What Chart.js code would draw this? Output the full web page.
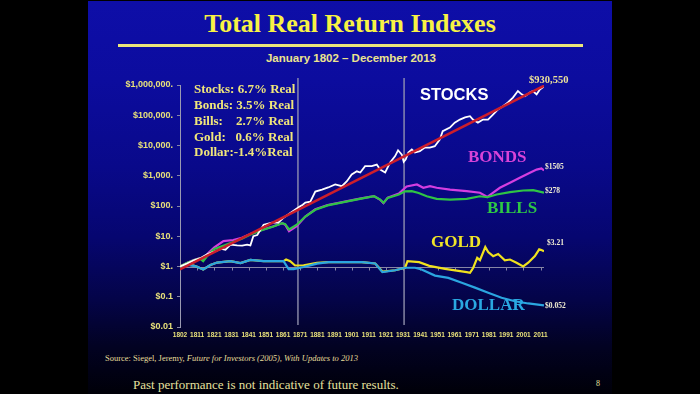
<!DOCTYPE html>
<html>
<head>
<meta charset="utf-8">
<title>Total Real Return Indexes</title>
<script src="https://cdn.jsdelivr.net/npm/chart.js@4.4.1/dist/chart.umd.min.js"></script>
<style>
  html, body { margin: 0; padding: 0; background: #000; width: 700px; height: 394px; overflow: hidden; }
  #slide {
    position: absolute; left: 88px; top: 1px; width: 524px; height: 393px;
    background: linear-gradient(to bottom, #0e0ea8 0%, #0c0c9e 20%, #09098a 42%, #060670 60%, #040448 76%, #020222 88%, #000008 100%);
  }
  .txt { position: absolute; white-space: pre; }
  #title { left: 88px; width: 524px; top: 9px; line-height: 32px; text-align: center;
    font: bold 26px "Liberation Serif", "Times New Roman", serif; color: #f8f244; }
  #rule { position: absolute; left: 118px; width: 465px; top: 44px; height: 3px; background: #ece67a; }
  #subtitle { left: 88px; width: 526px; top: 52px; line-height: 14px; text-align: center;
    font: bold 11.5px "Liberation Sans", Arial, sans-serif; color: #ece48e; }
  #source { left: 105px; top: 353px; line-height: 12px; font: 8.5px "Liberation Serif", serif; color: #e6de9a; }
  #footer { left: 133px; top: 377px; line-height: 16px; font: 13px "Liberation Serif", serif; color: #e6e09e; }
  #page { left: 596px; top: 379px; line-height: 12px; font: 8px "Liberation Serif", serif; color: #e6e09e; }
  #chart { position: absolute; left: 0; top: 0; }
</style>
</head>
<body>
<div id="slide"></div>
<div class="txt" id="title">Total Real Return Indexes</div>
<div id="rule"></div>
<div class="txt" id="subtitle">January 1802 – December 2013</div>
<div class="txt" id="source">Source: Siegel, Jeremy, <i>Future for Investors (2005), With Updates to 2013</i></div>
<div class="txt" id="footer">Past performance is not indicative of future results.</div>
<div class="txt" id="page">8</div>
<canvas id="chart" width="700" height="394"></canvas>

<script>
// values (real total return of $1 invested in 1802)
const stockYears = [1802, 1806, 1810, 1814, 1818, 1822, 1826, 1828.5, 1831.4, 1835.3, 1838.2, 1841.1, 1843, 1844.7, 1847, 1850.7,
  1855.6, 1859.3, 1862.3, 1865, 1869.2, 1871.5, 1873.5, 1875, 1877.9, 1880.8, 1884.7, 1888.3, 1892.4, 1896.3, 1899.2, 1902,
  1905, 1907, 1909.8, 1913.7, 1916.6, 1918.6, 1921.5, 1924.4, 1927.3, 1929, 1931.2, 1932.3, 1933.5, 1935, 1937, 1938.8,
  1941.7, 1944.6, 1947.5, 1950.4, 1953.3, 1955, 1959.2, 1962, 1965, 1968, 1970.9, 1972.6, 1975.5, 1978.5, 1981.4, 1984.3,
  1987.2, 1990.1, 1993, 1995.9, 1998.8, 2001, 2002.9, 2005.8, 2007.5, 2009.7, 2011.6, 2013.3, 2014];
const stockValues = [1, 1.25, 1.6, 1.9, 2.6, 3.1, 3.8, 3.6, 5.3, 5.0, 4.9, 5.3, 5.0, 10, 11, 24,
  28, 28, 41, 52, 77, 95, 110, 130, 140, 300, 350, 410, 515, 450, 660, 1100,
  1400, 1280, 2080, 2080, 2350, 1600, 1280, 2750, 4450, 6950, 5000, 2900, 3500, 5900, 7400, 5900,
  6500, 8500, 8500, 9500, 15800, 29700, 39000, 57000, 72000, 85000, 93000, 72000, 57000, 72000, 72000, 105000,
  155000, 200000, 265000, 385000, 630000, 490000, 425000, 565000, 630000, 490000, 710000, 830000, 930550];

const bondYears = [1802, 1806, 1810, 1813.5, 1815.5, 1818.5, 1822, 1827.3, 1833, 1838, 1844, 1850, 1856, 1861.5, 1863.3,
  1865.5, 1870, 1875, 1880.8, 1888, 1898, 1907.5, 1915, 1918.6, 1920.5, 1923, 1929.5, 1932, 1934, 1940, 1943.7, 1947.6,
  1951.5, 1959.3, 1969, 1976.7, 1981, 1984.4, 1988.3, 1994.2, 1999.9, 2005.8, 2009.7, 2012.5, 2014];
const bondValues = [1, 1.3, 1.65, 1.9, 1.7, 2.8, 4.3, 6.9, 7.5, 8.9, 12.5, 16.5, 21, 27, 24,
  14.7, 21.5, 45, 78, 108, 140, 178, 212, 160, 125, 190, 260, 350, 440, 515, 400, 450,
  400, 350, 310, 275, 200, 275, 400, 585, 855, 1250, 1600, 1750, 1505];

const billYears = [1802, 1806, 1810, 1813.5, 1815.5, 1818.5, 1822, 1828, 1833, 1838, 1844, 1850, 1856, 1861.5, 1863.3,
  1865.5, 1870, 1875, 1880.8, 1888, 1898, 1907.5, 1915, 1918.6, 1920.5, 1923, 1929.5, 1933, 1937, 1941, 1945.7,
  1951.5, 1959.3, 1969, 1976.7, 1981, 1986.4, 1994.2, 2001.9, 2007.7, 2014];
const billValues = [1, 1.3, 1.6, 1.85, 1.5, 2.5, 3.8, 5, 6.5, 8.3, 12, 16, 20.5, 27, 25,
  16.7, 24, 45, 75, 105, 137, 175, 210, 163, 128, 186, 240, 305, 310, 270, 210,
  173, 163, 173, 210, 195, 240, 288, 325, 333, 278];

const goldYears = [1802, 1806, 1810, 1812, 1815.5, 1819.7, 1823.6, 1831.4, 1837.2, 1843, 1850.7, 1856, 1862.3, 1863.8,
  1866.2, 1869, 1874, 1881.8, 1888.5, 1907.9, 1915.7, 1919.9, 1927.3, 1933.1, 1934.5, 1941.3, 1947.2, 1956.4, 1969,
  1970.9, 1972.8, 1975.1, 1976.7, 1979.8, 1981.5, 1984.4, 1987.3, 1991.2, 1994.2, 1998, 2001.9, 2004.8, 2008.7,
  2011.2, 2012.5, 2014];
const goldValues = [1, 1.15, 1.08, 0.98, 0.8, 1.12, 1.35, 1.5, 1.3, 1.65, 1.5, 1.5, 1.5, 1.7,
  1.5, 1.08, 1.1, 1.33, 1.39, 1.39, 1.26, 0.68, 0.75, 0.91, 1.5, 1.39, 1.05, 0.84, 0.65,
  0.62, 0.91, 1.94, 1.62, 4.4, 3.0, 2.2, 2.6, 1.6, 1.7, 1.33, 1.0, 1.33, 2.2,
  3.7, 3.5, 3.21];

const dollarYears = [1802, 1806, 1810, 1812, 1815.5, 1819.7, 1823.6, 1831.4, 1837.2, 1843, 1850.7, 1856, 1862.3, 1865.3,
  1868.2, 1874, 1881.8, 1888.5, 1907.9, 1915.7, 1919.9, 1927.3, 1933.1, 1938.9, 1942.7, 1950.5, 1958.3, 1966.1,
  1973.8, 1981.5, 1989.3, 1997.1, 2004.8, 2014];
const dollarValues = [1, 1.15, 1.05, 0.98, 0.8, 1.12, 1.35, 1.5, 1.3, 1.65, 1.5, 1.5, 1.5, 0.82,
  0.82, 0.96, 1.25, 1.39, 1.39, 1.26, 0.65, 0.75, 0.91, 0.91, 0.8, 0.5, 0.42, 0.29,
  0.2, 0.135, 0.093, 0.071, 0.06, 0.052];

const trendYears = [1802, 2014];
const trendValues = [0.8, 940000];

const xTickLabels = ['1802', '1811', '1821', '1831', '1841', '1851', '1861', '1871', '1881', '1891', '1901',
  '1911', '1921', '1931', '1941', '1951', '1961', '1971', '1981', '1991', '2001', '2011'];
const yTickValues = [0.01, 0.1, 1, 10, 100, 1000, 10000, 100000, 1000000];
const yTickLabels = ['$0.01', '$0.1', '$1.', '$10.', '$100.', '$1,000.', '$10,000.', '$100,000.', '$1,000,000.'];
const markerYears = [1870.7, 1932.5];

const summaryLines = ['Stocks: 6.7% Real', 'Bonds: 3.5% Real', 'Bills:    2.7% Real', 'Gold:   0.6% Real', 'Dollar:-1.4%Real'];

function points(xs, ys) {
    return xs.map((x, i) => ({ x: x, y: ys[i] }));
}

// dataset 0 is painted last, so the trend line sits on top
const series = [
    { name: 'Trend', data: points(trendYears, trendValues), color: '#cc1e2b', width: 2.6 },
    { name: 'Stocks', data: points(stockYears, stockValues), color: '#ffffff', width: 1.8, end: '$930,550' },
    { name: 'Bills', data: points(billYears, billValues), color: '#2fc445', width: 2.2, end: '$278' },
    { name: 'Bonds', data: points(bondYears, bondValues), color: '#d43ee0', width: 2.2, end: '$1505' },
    { name: 'Dollar', data: points(dollarYears, dollarValues), color: '#2ba6e0', width: 2.2, end: '$0.052' },
    { name: 'Gold', data: points(goldYears, goldValues), color: '#f0e21e', width: 2.2, end: '$3.21' }
];

const endOffsets = {
    Stocks: [-15, -6], Bonds: [1, -3], Bills: [1, -2], Gold: [3, -8], Dollar: [1, 1]
};

const guides = {
    id: 'guides',
    beforeDatasetsDraw(chart) {
        const { ctx, chartArea: a, scales: { x, y } } = chart;
        ctx.save();
        // $1 baseline with its small tick marks
        const y1 = Math.round(y.getPixelForValue(1)) + 0.5;
        ctx.strokeStyle = '#8686a6';
        ctx.lineWidth = 1;
        ctx.beginPath();
        ctx.moveTo(a.left, y1);
        ctx.lineTo(a.right, y1);
        x.ticks.forEach(t => {
            const px = Math.round(x.getPixelForValue(t.value)) + 0.5;
            ctx.moveTo(px, y1);
            ctx.lineTo(px, y1 + 3);
        });
        ctx.stroke();
        // 1871 / 1932 separators
        ctx.strokeStyle = '#9a9ab4';
        ctx.lineWidth = 1.3;
        markerYears.forEach(yr => {
            const px = x.getPixelForValue(yr);
            ctx.beginPath();
            ctx.moveTo(px, a.top - 7);
            ctx.lineTo(px, a.bottom - 2);
            ctx.stroke();
        });
        ctx.restore();
    }
};

const labels = {
    id: 'labels',
    afterDraw(chart) {
        const ctx = chart.ctx;
        ctx.save();
        ctx.textBaseline = 'middle';
        ctx.textAlign = 'left';

        ctx.font = 'bold 13px "Liberation Serif", "Times New Roman", serif';
        ctx.fillStyle = '#f0e67a';
        [90, 106, 122, 137.5, 153].forEach((ty, i) => ctx.fillText(summaryLines[i], 194, ty));

        ctx.font = 'bold 16.5px "Liberation Sans", Arial, sans-serif';
        ctx.fillStyle = '#ffffff';
        ctx.fillText('STOCKS', 420, 95);

        ctx.font = 'bold 17px "Liberation Serif", "Times New Roman", serif';
        ctx.fillStyle = '#d843d8';
        ctx.fillText('BONDS', 468, 158);
        ctx.fillStyle = '#2ec845';
        ctx.fillText('BILLS', 487, 209);
        ctx.fillStyle = '#f0e428';
        ctx.fillText('GOLD', 431, 243);
        ctx.fillStyle = '#2aa8e2';
        ctx.fillText('DOLLAR', 452, 306);

        // closing values next to each line end
        series.forEach((s, i) => {
            if (!s.end) return;
            const pts = chart.getDatasetMeta(i).data;
            const last = pts[pts.length - 1];
            const off = endOffsets[s.name];
            if (s.name === 'Stocks') {
                ctx.font = 'bold 10.5px "Liberation Serif", "Times New Roman", serif';
                ctx.fillStyle = '#ece29a';
            } else {
                ctx.font = 'bold 7.5px "Liberation Serif", "Times New Roman", serif';
                ctx.fillStyle = '#f2eed2';
            }
            ctx.fillText(s.end, last.x + off[0], last.y + off[1]);
        });
        ctx.restore();
    }
};

document.addEventListener('DOMContentLoaded', () => {
    const ctx = document.getElementById('chart').getContext('2d');

    const returnsChart = new Chart(ctx, {
        type: 'line',
        data: {
            datasets: series.map(s => ({
                label: s.name,
                data: s.data,
                borderColor: s.color,
                borderWidth: s.width,
                pointRadius: 0,
                tension: 0,
                fill: false
            }))
        },
        options: {
            responsive: false,
            animation: false,
            devicePixelRatio: 1,
            layout: {
                padding: { left: 88, right: 156, top: 85, bottom: 0 }
            },
            scales: {
                x: {
                    type: 'linear',
                    min: 1802,
                    max: 2014,
                    afterBuildTicks: scale => {
                        scale.ticks = xTickLabels.map((l, i) => ({ value: 1802 + 10 * i }));
                    },
                    afterFit: scale => { scale.height = 67; },
                    ticks: {
                        autoSkip: false,
                        maxRotation: 0,
                        padding: 4,
                        color: '#e8e07a',
                        font: { family: '"Liberation Sans", Arial, sans-serif', size: 6.5, weight: 'bold' },
                        callback: (v, i) => xTickLabels[i]
                    },
                    grid: { display: false, drawTicks: false },
                    border: { display: false }
                },
                y: {
                    type: 'logarithmic',
                    min: 0.01,
                    max: 1000000,
                    afterBuildTicks: scale => {
                        scale.ticks = yTickValues.map(v => ({ value: v }));
                    },
                    afterFit: scale => { scale.width = 92; },
                    ticks: {
                        padding: 4,
                        color: '#e8e07a',
                        font: { family: '"Liberation Sans", Arial, sans-serif', size: 9, weight: 'bold' },
                        callback: (v, i) => yTickLabels[i]
                    },
                    grid: { drawOnChartArea: false, drawTicks: true, tickLength: 3, color: '#8a8aa8' },
                    border: { display: true, color: '#9a9ab2', width: 1 }
                }
            },
            plugins: {
                legend: { display: false },
                tooltip: { enabled: false }
            }
        },
        plugins: [guides, labels]
    });
});
</script>
</body>
</html>
